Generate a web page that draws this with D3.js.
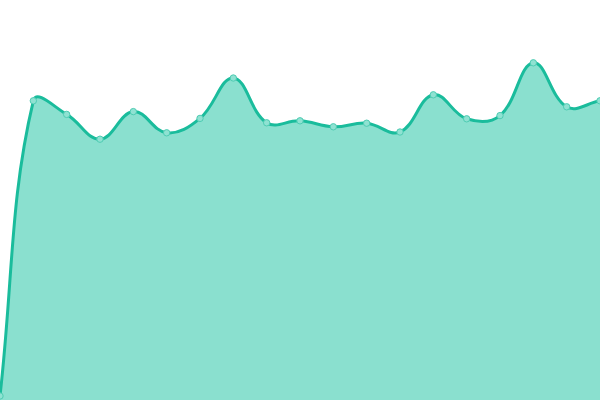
<!DOCTYPE html>
<html>
<head>
<meta charset="utf-8">
<script src="https://cdn.jsdelivr.net/npm/d3@7"></script>
<style>
  body { margin: 0; background: #fff; }
  svg { display: block; }
</style>
</head>
<body>
<div id="chart"></div>
<script>
// data
const labels = ["1","2","3","4","5","6","7","8","9","10","11","12","13","14","15","16","17","18","19"]
const values = [1, 74.8, 71.4, 65.2, 72.1, 66.8, 70.4, 80.5, 69.3, 69.8, 68.3, 69.2, 67, 76.3, 70.3, 71.1, 84.3, 73.3, 74.8]
const yDomain = [0, 100]

const width = 600, height = 400

const lineColor = "#1abc9c"
const fillColor = "#8ae0cf"

// spline like a tension 0.4 line chart: control points weighted by segment length
function splineCurve(context) {
  return {
    _line: NaN,
    areaStart() { this._line = 0 },
    areaEnd() { this._line = NaN },
    lineStart() { this._pts = [] },
    point(x, y) { this._pts.push([+x, +y]) },
    lineEnd() {
      const p = this._pts, n = p.length, t = 0.4
      if (n) {
        if (this._line) context.lineTo(p[0][0], p[0][1])
        else context.moveTo(p[0][0], p[0][1])
      }
      const cp = p.map((cur, i) => {
        const prev = p[i - 1] || cur, next = p[i + 1] || cur
        const d01 = Math.hypot(cur[0] - prev[0], cur[1] - prev[1])
        const d12 = Math.hypot(next[0] - cur[0], next[1] - cur[1])
        let s01 = d01 / (d01 + d12), s12 = d12 / (d01 + d12)
        if (isNaN(s01)) s01 = 0
        if (isNaN(s12)) s12 = 0
        const fa = t * s01, fb = t * s12
        const clampX = v => Math.max(0, Math.min(width, v))
        const clampY = v => Math.max(0, Math.min(height, v))
        return {
          pr: [clampX(cur[0] - fa * (next[0] - prev[0])), clampY(cur[1] - fa * (next[1] - prev[1]))],
          nx: [clampX(cur[0] + fb * (next[0] - prev[0])), clampY(cur[1] + fb * (next[1] - prev[1]))]
        }
      })
      for (let i = 1; i < n; i++) {
        context.bezierCurveTo(cp[i - 1].nx[0], cp[i - 1].nx[1], cp[i].pr[0], cp[i].pr[1], p[i][0], p[i][1])
      }
      if (this._line || (this._line !== 0 && n === 1)) context.closePath()
      this._line = 1 - this._line
    }
  }
}

const svg = d3.select("#chart")
  .append("svg")
  .attr("width", width)
  .attr("height", height)

const x = d3.scalePoint()
  .domain(labels)
  .range([0, width])

const y = d3.scaleLinear()
  .domain(yDomain)
  .range([height, 0])

const data = labels.map((l, i) => ({ label: l, value: values[i] }))

// area fill
svg.append("path")
  .datum(data)
  .attr("fill", fillColor)
  .attr("stroke", "none")
  .attr("d", d3.area()
    .x(d => x(d.label))
    .y0(y(yDomain[0]))
    .y1(d => y(d.value))
    .curve(splineCurve)
  )

// line
svg.append("path")
  .datum(data)
  .attr("fill", "none")
  .attr("stroke", lineColor)
  .attr("stroke-width", 3)
  .attr("d", d3.line()
    .x(d => x(d.label))
    .y(d => y(d.value))
    .curve(splineCurve)
  )

// points
svg.selectAll("circle.pt")
  .data(data)
  .join("circle")
  .attr("class", "pt")
  .attr("cx", d => x(d.label))
  .attr("cy", d => y(d.value))
  .attr("r", 3.2)
  .attr("fill", "#8fe2d2")
  .attr("stroke", "#4fccb3")
  .attr("stroke-width", 1)
</script>
</body>
</html>
